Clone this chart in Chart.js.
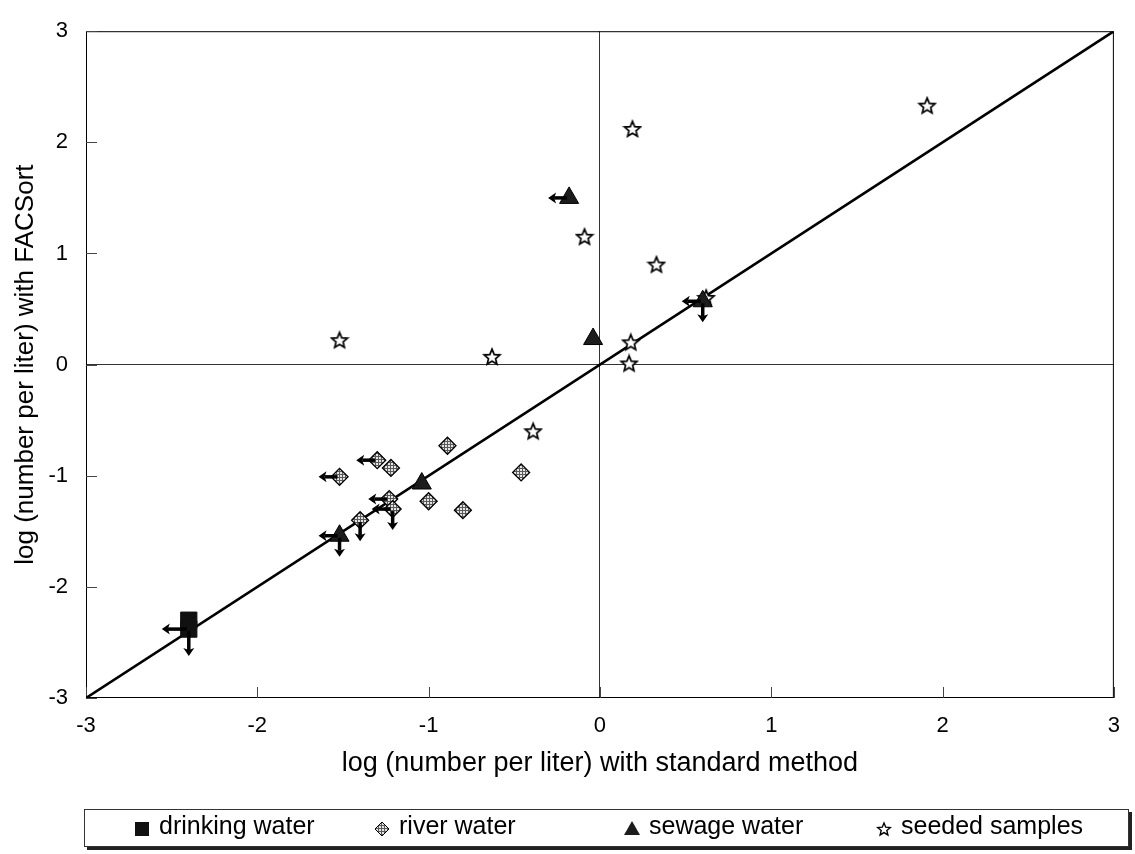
<!DOCTYPE html>
<html>
<head>
<meta charset="utf-8">
<title>FACSort vs standard method</title>
<script src="https://cdn.jsdelivr.net/npm/chart.js@4.4.0/dist/chart.umd.min.js"></script>
<style>
  html, body { margin: 0; padding: 0; background: #fff; }
  #chart { display: block; }
</style>
</head>
<body>
<canvas id="chart" width="1135" height="854"></canvas>
<script>
// log (number per liter)
const axisTicks = [-3, -2, -1, 0, 1, 2, 3];

const drinkingX = [-2.40, -2.40];
const drinkingY = [-2.30, -2.38];
const drinkingLeft = [false, true];
const drinkingDown = [false, true];

const riverX = [-1.52, -1.30, -1.22, -0.89, -0.46, -1.00, -0.80, -1.23, -1.21, -1.40];
const riverY = [-1.01, -0.86, -0.93, -0.73, -0.97, -1.23, -1.31, -1.21, -1.30, -1.40];
const riverLeft = [true, true, false, false, false, false, false, true, true, false];
const riverDown = [false, false, false, false, false, false, false, false, true, true];

const sewageX = [-0.18, -0.04, -1.04, -1.52, 0.60];
const sewageY = [1.50, 0.23, -1.07, -1.54, 0.57];
const sewageLeft = [true, false, false, true, true];
const sewageDown = [false, false, false, true, true];

const seededX = [-1.52, -0.63, -0.09, 0.19, 0.33, 0.18, 0.17, -0.39, 1.91, 0.62];
const seededY = [0.22, 0.07, 1.15, 2.12, 0.90, 0.20, 0.01, -0.60, 2.33, 0.60];

// 1:1 line
const identityX = [-3, 3];
const identityY = [-3, 3];

const FONT = "'Liberation Sans', Arial, Helvetica, sans-serif";
Chart.defaults.font.family = FONT;
Chart.defaults.color = '#000';

const canvas = document.getElementById('chart');
const mainCtx = canvas.getContext('2d');

function toPoints(xs, ys) {
    return xs.map((x, i) => ({ x: x, y: ys[i] }));
}

// grey cross-hatch used for the river water diamonds
function hatchPattern() {
    const tile = document.createElement('canvas');
    tile.width = 3;
    tile.height = 3;
    const g = tile.getContext('2d');
    g.fillStyle = '#e4e4e4';
    g.fillRect(0, 0, 3, 3);
    g.fillStyle = '#5a5a5a';
    g.fillRect(0, 0, 3, 1);
    g.fillRect(0, 0, 1, 3);
    return mainCtx.createPattern(tile, 'repeat');
}

// open five-pointed star (Chart.js 'star' is an asterisk)
function starImage(size, lw) {
    const c = document.createElement('canvas');
    c.width = size;
    c.height = size;
    const g = c.getContext('2d');
    const cx = size / 2, cy = size / 2 + 0.6;
    const R = size / 2 - lw, r = R * 0.45;
    g.beginPath();
    for (let i = 0; i < 10; i++) {
        const a = -Math.PI / 2 + i * Math.PI / 5;
        const rr = i % 2 ? r : R;
        g.lineTo(cx + rr * Math.cos(a), cy + rr * Math.sin(a));
    }
    g.closePath();
    g.fillStyle = '#fff';
    g.fill();
    g.lineWidth = lw;
    g.lineJoin = 'miter';
    g.strokeStyle = '#000';
    g.stroke();
    return c;
}

const hatch = hatchPattern();
const starBig = starImage(20, 1.7);
const starSmall = starImage(16, 1.4);

// frame of the plot area with inward tick marks
const framePlugin = {
    id: 'frame',
    beforeDatasetsDraw(chart) {
        const { ctx, chartArea: a, scales } = chart;
        ctx.save();
        ctx.strokeStyle = '#000';
        ctx.lineWidth = 1;
        ctx.strokeRect(a.left + 0.5, a.top + 0.5, a.right - a.left - 1, a.bottom - a.top - 1);
        ctx.strokeStyle = '#444';
        ctx.beginPath();
        axisTicks.forEach(v => {
            const px = Math.round(scales.x.getPixelForValue(v)) + 0.5;
            ctx.moveTo(px, a.bottom);
            ctx.lineTo(px, a.bottom - 11);
            const py = Math.round(scales.y.getPixelForValue(v)) + 0.5;
            ctx.moveTo(a.left, py);
            ctx.lineTo(a.left + 11, py);
        });
        ctx.stroke();
        ctx.restore();
    }
};

function drawArrow(ctx, x0, y0, x1, y1) {
    const ang = Math.atan2(y1 - y0, x1 - x0);
    const head = 8, half = 5.5;
    const bx = x1 - Math.cos(ang) * head, by = y1 - Math.sin(ang) * head;
    ctx.beginPath();
    ctx.moveTo(x0, y0);
    ctx.lineTo(bx + Math.cos(ang) * 2, by + Math.sin(ang) * 2);
    ctx.stroke();
    ctx.beginPath();
    ctx.moveTo(x1, y1);
    ctx.lineTo(bx - Math.sin(ang) * half, by + Math.cos(ang) * half);
    ctx.lineTo(bx + Math.cos(ang) * 2, by + Math.sin(ang) * 2);
    ctx.lineTo(bx + Math.sin(ang) * half, by - Math.cos(ang) * half);
    ctx.closePath();
    ctx.fill();
}

// "less than" arrows for values at the detection limit
const arrowPlugin = {
    id: 'limitArrows',
    afterDatasetsDraw(chart) {
        const ctx = chart.ctx;
        ctx.save();
        ctx.strokeStyle = '#000';
        ctx.fillStyle = '#000';
        ctx.lineWidth = 3.5;
        chart.data.datasets.forEach((ds, di) => {
            if (!ds.leftArrow) return;
            const meta = chart.getDatasetMeta(di);
            const reach = ds.arrowReach || 21;
            meta.data.forEach((pt, i) => {
                if (ds.leftArrow[i]) drawArrow(ctx, pt.x - 2, pt.y, pt.x - reach, pt.y);
                if (ds.downArrow[i]) drawArrow(ctx, pt.x, pt.y + 2, pt.x, pt.y + reach);
            });
        });
        ctx.restore();
    }
};

function legendMarker(ctx, ds, x, y) {
    ctx.save();
    ctx.fillStyle = ds.backgroundColor;
    ctx.strokeStyle = '#000';
    ctx.lineWidth = 1;
    const s = ds.pointStyle;
    if (s === 'rect') {
        ctx.fillRect(x - 7, y - 7, 14, 14);
    } else if (s === 'rectRot') {
        ctx.beginPath();
        ctx.moveTo(x - 7, y);
        ctx.lineTo(x, y - 7);
        ctx.lineTo(x + 7, y);
        ctx.lineTo(x, y + 7);
        ctx.closePath();
        ctx.fill();
        ctx.stroke();
    } else if (s === 'triangle') {
        ctx.beginPath();
        ctx.moveTo(x, y - 8);
        ctx.lineTo(x + 8, y + 6);
        ctx.lineTo(x - 8, y + 6);
        ctx.closePath();
        ctx.fill();
    } else {
        ctx.drawImage(starSmall, x - starSmall.width / 2, y - starSmall.height / 2);
    }
    ctx.restore();
}

// boxed legend under the axis title
const legendPlugin = {
    id: 'boxLegend',
    afterDraw(chart) {
        const ctx = chart.ctx;
        const box = { left: 84, top: 809, right: 1129, bottom: 847 };
        const cols = [142, 382, 632, 884];
        const w = box.right - box.left, h = box.bottom - box.top;
        ctx.save();
        ctx.fillStyle = '#222';
        ctx.fillRect(box.left + 3, box.top + 3, w, h);
        ctx.fillStyle = '#fff';
        ctx.fillRect(box.left, box.top, w, h);
        ctx.strokeStyle = '#333';
        ctx.lineWidth = 1;
        ctx.strokeRect(box.left + 0.5, box.top + 0.5, w - 1, h - 1);
        const cy = (box.top + box.bottom) / 2;
        const series = chart.data.datasets.filter(ds => ds.type !== 'line');
        series.forEach((ds, i) => {
            legendMarker(ctx, ds, cols[i], cy + 1);
            ctx.fillStyle = '#000';
            ctx.font = '25px ' + FONT;
            ctx.textAlign = 'left';
            ctx.textBaseline = 'middle';
            ctx.fillText(ds.label, cols[i] + 17, cy - 1);
        });
        ctx.restore();
    }
};

new Chart(mainCtx, {
    type: 'scatter',
    data: {
        datasets: [
            {
                label: 'drinking water',
                data: toPoints(drinkingX, drinkingY),
                pointStyle: 'rect',
                pointRadius: 11.5,
                backgroundColor: '#111',
                borderColor: '#111',
                borderWidth: 1,
                leftArrow: drinkingLeft,
                downArrow: drinkingDown,
                arrowReach: 27
            },
            {
                label: 'river water',
                data: toPoints(riverX, riverY),
                pointStyle: 'rectRot',
                pointRadius: 8.5,
                backgroundColor: hatch,
                borderColor: '#000',
                borderWidth: 1.3,
                leftArrow: riverLeft,
                downArrow: riverDown
            },
            {
                label: 'sewage water',
                data: toPoints(sewageX, sewageY),
                pointStyle: 'triangle',
                pointRadius: 11,
                backgroundColor: '#1c1c1c',
                borderColor: '#000',
                borderWidth: 1,
                leftArrow: sewageLeft,
                downArrow: sewageDown
            },
            {
                label: 'seeded samples',
                data: toPoints(seededX, seededY),
                pointStyle: starBig,
                pointRadius: 9,
                backgroundColor: '#fff',
                borderColor: '#000'
            },
            {
                type: 'line',
                label: '1:1',
                data: toPoints(identityX, identityY),
                borderColor: '#000',
                borderWidth: 2.6,
                pointRadius: 0,
                fill: false,
                order: 1
            }
        ]
    },
    options: {
        responsive: false,
        animation: false,
        events: [],
        layout: { padding: { left: 0, right: 9, top: 17, bottom: 70 } },
        plugins: {
            legend: { display: false },
            tooltip: { enabled: false }
        },
        scales: {
            x: {
                type: 'linear',
                min: -3,
                max: 3,
                afterBuildTicks: s => { s.ticks = axisTicks.map(v => ({ value: v })); },
                afterFit: s => { s.height = 86; },
                ticks: { font: { size: 22 }, color: '#000', padding: 15, maxRotation: 0 },
                grid: {
                    color: c => (c.tick && c.tick.value === 0 ? '#333' : 'rgba(0,0,0,0)'),
                    lineWidth: 1,
                    drawTicks: false
                },
                border: { display: false },
                title: {
                    display: true,
                    text: 'log (number per liter) with standard method',
                    font: { size: 27 },
                    color: '#000',
                    padding: { top: 0, bottom: 4 }
                }
            },
            y: {
                type: 'linear',
                min: -3,
                max: 3,
                afterBuildTicks: s => { s.ticks = axisTicks.map(v => ({ value: v })); },
                afterFit: s => { s.width = 86; },
                ticks: { font: { size: 22 }, color: '#000', padding: 18 },
                grid: {
                    color: c => (c.tick && c.tick.value === 0 ? '#333' : 'rgba(0,0,0,0)'),
                    lineWidth: 1,
                    drawTicks: false
                },
                border: { display: false },
                title: {
                    display: true,
                    text: 'log (number per liter) with FACSort',
                    font: { size: 26 },
                    color: '#000',
                    padding: { top: 10, bottom: 0 }
                }
            }
        }
    },
    plugins: [framePlugin, arrowPlugin, legendPlugin]
});
</script>
</body>
</html>
